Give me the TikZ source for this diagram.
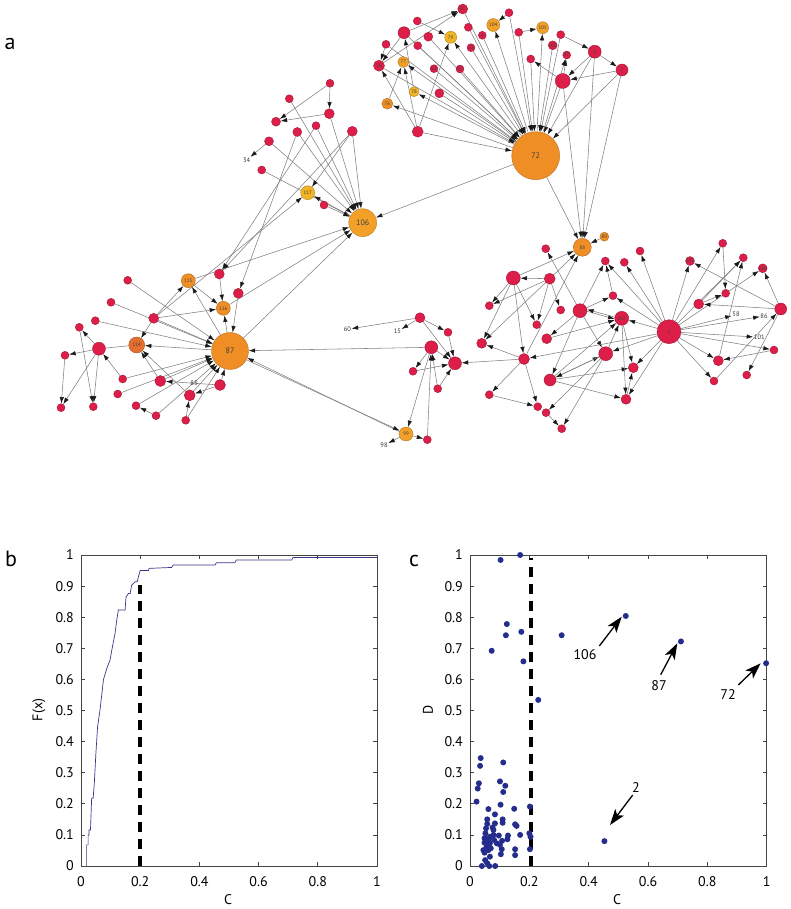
\documentclass[tikz,border=0pt]{standalone}
\usepackage{fontspec}
\setmainfont{PT Sans}
\usetikzlibrary{arrows.meta}
\pgfdeclarelayer{bg}
\pgfsetlayers{bg,main}
\definecolor{nred}{RGB}{220,30,72}
\definecolor{norange}{RGB}{240,142,38}
\definecolor{norangeb}{RGB}{242,160,40}
\definecolor{nyellow}{RGB}{242,180,36}
\definecolor{ndark}{RGB}{228,110,48}
\definecolor{dotblue}{RGB}{36,44,140}
\definecolor{cdfblue}{RGB}{55,55,135}
\definecolor{edgegray}{RGB}{128,128,128}
\definecolor{axisgray}{RGB}{70,70,70}
\newcommand\NodeC[6]{\node[nd,minimum size=#4pt,fill=#5,draw=#5!70!black] (#1) at (#2,#3) {#6};}
\newcommand\NodeB[6]{\node[nd,font=\fontsize{8}{8}\selectfont,minimum size=#4pt,fill=#5,draw=#5!75!black] (#1) at (#2,#3) {#6};}
\newcommand\NodeT[4]{\node[tx] (#1) at (#2,#3) {#4};}
\newcommand\Edge[2]{\draw[edge] (#1) -- (#2);}
\begin{document}
\begin{tikzpicture}[x=1pt,y=-1pt,
  nd/.style={circle,inner sep=0pt,line width=0.35pt,font=\fontsize{5}{5}\selectfont,text=black!75},
  tx/.style={inner sep=0.6pt,font=\fontsize{6.5}{6.5}\selectfont,text=black!80},
  edge/.style={draw=edgegray,line width=0.55pt,-{Latex[length=6.5pt,width=4.4pt,color=black!90]}},
  axis/.style={draw=axisgray,line width=0.8pt},
  tick/.style={inner sep=0pt,font=\fontsize{14}{14}\selectfont,text=black},
  panel/.style={inner sep=0pt,font=\fontsize{22}{22}\selectfont,text=black},
  ann/.style={line width=1.3pt,-{Stealth[length=16pt,width=11pt,inset=4pt]}},
  dashv/.style={line width=3.5pt,dash pattern=on 10pt off 7pt},
  dot/.style={fill=dotblue,draw=none}]
\useasboundingbox (0,0) rectangle (791,909);

% ---------------- panel a ----------------
\node[panel] (la) at (10,44) {a};

% top cluster
\NodeC{t1}{462.7}{9}{10}{nred}{61}
\NodeC{t2}{417.3}{21}{8}{nred}{}
\NodeC{t3}{404}{32.7}{12}{nred}{}
\NodeC{t4}{386}{44.3}{8}{nred}{}
\NodeC{t5}{417.7}{45.7}{8}{nred}{}
\NodeC{t6}{428.3}{36.7}{9}{nred}{}
\NodeC{t7}{450.7}{37.3}{12}{nyellow}{79}
\NodeC{t8}{468.3}{27.3}{8}{nred}{}
\NodeC{t9}{482.3}{35.3}{8}{nred}{4}
\NodeC{t10}{471}{47.7}{8}{nred}{52}
\NodeC{t11}{460}{69}{8}{nred}{51}
\NodeC{t12}{434}{68.7}{8}{nred}{62}
\NodeC{t13}{439.3}{93.3}{9}{nred}{}
\NodeC{t14}{379}{65.7}{11}{nred}{56}
\NodeC{t15}{403.3}{62}{11}{norangeb}{77}
\NodeC{t16}{414}{91.7}{10}{nyellow}{78}
\NodeC{t17}{387.3}{103.7}{11}{norange}{76}
\NodeC{t18}{417.7}{131.7}{11}{nred}{}
\NodeC{t19}{493.3}{25}{13}{norangeb}{104}
\NodeC{t20}{509}{12.7}{8}{nred}{}
\NodeC{t21}{518.7}{32.3}{8}{nred}{}
\NodeC{t22}{542.7}{27.7}{12}{norangeb}{105}
\NodeC{t23}{560.7}{34.7}{8}{nred}{}
\NodeC{t24}{552.7}{45.3}{8}{nred}{100}
\NodeC{t25}{566.7}{55}{8}{nred}{97}
\NodeC{t26}{530.7}{59}{8}{nred}{}
\NodeC{t27}{594.7}{51.7}{13}{nred}{6}
\NodeC{t28}{622}{70}{12}{nred}{7}
\NodeC{t29}{562.7}{81}{15}{nred}{}
\NodeB{H72}{535.7}{155.7}{48}{norange}{72}

% upper-left cluster
\NodeC{u1}{330}{83.3}{8}{nred}{}
\NodeC{u2}{289.3}{98.7}{8}{nred}{}
\NodeC{u3}{329.3}{113.7}{10}{nred}{}
\NodeC{u4}{276}{121.7}{9}{nred}{}
\NodeC{u5}{316}{125.7}{8}{nred}{}
\NodeC{u6}{297.3}{132}{9}{nred}{}
\NodeC{u7}{352.3}{131.3}{10}{nred}{}
\NodeC{u8}{269}{141.3}{9}{nred}{}
\NodeT{u34}{246.7}{160}{34}
\NodeC{u9}{261.7}{170}{8}{nred}{}
\NodeC{u117}{307.7}{192.7}{14}{nyellow}{117}
\NodeC{u10}{324}{205}{8}{nred}{}
\NodeB{H106}{362.7}{222.7}{28}{norangeb}{106}

% left cluster
\NodeC{L1}{127.7}{280.3}{8}{nred}{}
\NodeC{L115}{188.3}{280.7}{14}{norange}{115}
\NodeC{L37}{219.3}{274}{10}{nred}{}
\NodeC{L2}{111}{302.3}{8}{nred}{}
\NodeC{L42}{238.3}{293.3}{10}{nred}{}
\NodeC{L116}{223.3}{308.3}{14}{norange}{116}
\NodeC{L3}{95.3}{320.7}{8}{nred}{}
\NodeC{L4}{153.7}{318.3}{10}{nred}{}
\NodeC{L5}{79.3}{327.3}{8}{nred}{}
\NodeC{L114}{136.7}{345}{16}{ndark}{114}
\NodeC{L6}{99}{348.7}{13}{nred}{}
\NodeC{L7}{65}{355.3}{8}{nred}{}
\NodeB{H87}{230}{351}{37}{norange}{87}
\NodeC{L8}{122.7}{379}{8}{nred}{}
\NodeC{L9}{117.7}{394}{8}{nred}{}
\NodeC{L10}{160.3}{381}{11}{nred}{}
\NodeT{L83}{194}{383.3}{83}
\NodeC{L11}{220}{385}{11}{nred}{}
\NodeC{L12}{189.7}{395.3}{11}{nred}{}
\NodeC{L13}{61}{407.7}{8}{nred}{}
\NodeC{L14}{93.3}{406.7}{8}{nred}{}
\NodeC{L15}{136}{405.7}{8}{nred}{}
\NodeC{L16}{156}{415.7}{8}{nred}{}
\NodeC{L17}{185.7}{420.3}{8}{nred}{}

% middle cluster
\NodeC{M1}{420}{317.7}{10}{nred}{}
\NodeT{M60}{347.3}{329.3}{60}
\NodeT{M15}{397.3}{331.7}{15}
\NodeC{M2}{448}{332.3}{8}{nred}{}
\NodeC{M3}{431.3}{347.3}{13}{nred}{}
\NodeC{M4}{455}{363.3}{13}{nred}{}
\NodeC{M5}{413}{371.3}{8}{nred}{}
\NodeC{M6}{437.7}{388.7}{8}{nred}{}
\NodeC{M99}{406}{434}{14}{norangeb}{99}
\NodeC{M7}{427.3}{439.7}{8}{nred}{}
\NodeT{M98}{384}{445.3}{98}

% right cluster
\NodeC{R88}{582.3}{247.3}{18}{norange}{88}
\NodeC{R89}{604.3}{236.7}{9}{norange}{89}
\NodeC{R1}{545.7}{248.7}{8}{nred}{}
\NodeC{R22}{513.3}{278}{14}{nred}{}
\NodeC{R2}{549.7}{278.7}{11}{nred}{}
\NodeC{R3}{489.3}{305.7}{8}{nred}{}
\NodeC{R4}{560.7}{310}{8}{nred}{}
\NodeC{R5}{536.7}{324.7}{8}{nred}{}
\NodeC{R6}{481.7}{343.3}{10}{nred}{}
\NodeC{R12}{580}{310.7}{14}{nred}{}
\NodeC{R7}{605.3}{261}{8}{nred}{}
\NodeC{R8}{624.3}{262.3}{8}{nred}{}
\NodeC{R9}{640}{251}{8}{nred}{}
\NodeC{R10}{613}{295.7}{8}{nred}{}
\NodeC{R107}{621.7}{318.3}{14}{nred}{107}
\NodeC{R11}{546.7}{338.7}{10}{nred}{}
\NodeC{R35}{524}{359}{11}{nred}{}
\NodeC{R71}{605.7}{353.7}{14}{nred}{}
\NodeC{R40}{550}{380}{12}{nred}{}
\NodeC{R13}{633.3}{367.7}{10}{nred}{}
\NodeC{R17}{626}{399.3}{10}{nred}{}
\NodeC{R14}{489.3}{394.7}{8}{nred}{}
\NodeC{R15}{537.7}{406.7}{8}{nred}{}
\NodeC{R16}{546}{412.7}{8}{nred}{}
\NodeC{R18}{561.7}{428.7}{8}{nred}{}
\NodeC{R2h}{669}{331.7}{24}{nred}{2}
\NodeC{R103}{690}{261}{8}{nred}{103}
\NodeC{R19}{722.7}{243.3}{8}{nred}{}
\NodeC{R20}{743.3}{257.7}{8}{nred}{}
\NodeC{R110}{762.7}{268.3}{8}{nred}{110}
\NodeC{R21}{725.7}{293.3}{8}{nred}{}
\NodeC{R23}{698.7}{304}{10}{nred}{}
\NodeC{R24}{780.7}{309}{12}{nred}{}
\NodeT{R58}{736}{314.7}{58}
\NodeT{R86}{764}{316}{86}
\NodeT{R101}{759.3}{337.3}{101}
\NodeC{R25}{774}{350}{8}{nred}{}
\NodeC{R26}{718.3}{360.7}{10}{nred}{}
\NodeC{R27}{746.7}{375}{8}{nred}{}
\NodeC{R28}{714}{381}{8}{nred}{}

\begin{pgfonlayer}{bg}
% top cluster edges
\Edge{t3}{t1}\Edge{t14}{t1}\Edge{t2}{t7}\Edge{t3}{t14}\Edge{t18}{t14}\Edge{t18}{t15}
\Edge{t17}{t15}\Edge{t16}{t3}\Edge{t4}{t14}\Edge{t18}{t7}
\Edge{t1}{H72}\Edge{t3}{H72}\Edge{t4}{H72}\Edge{t5}{H72}\Edge{t6}{H72}\Edge{t8}{H72}
\Edge{t9}{H72}\Edge{t10}{H72}\Edge{t11}{H72}\Edge{t12}{H72}\Edge{t13}{H72}\Edge{t14}{H72}
\Edge{t18}{H72}\Edge{t20}{H72}\Edge{t21}{H72}\Edge{t23}{H72}\Edge{t24}{H72}\Edge{t26}{H72}
\Edge{t27}{H72}\Edge{t28}{H72}\Edge{t29}{H72}
\Edge{H72}{t7}\Edge{H72}{t15}\Edge{H72}{t16}\Edge{H72}{t17}\Edge{H72}{t19}\Edge{H72}{t22}\Edge{H72}{t25}
\Edge{t20}{t19}\Edge{t21}{t22}\Edge{t23}{t27}\Edge{t27}{t28}\Edge{t27}{t29}\Edge{t28}{t29}
\Edge{t29}{t26}\Edge{t29}{t25}
\Edge{H72}{H106}\Edge{H72}{R88}\Edge{t27}{R88}\Edge{t28}{R88}\Edge{t29}{R88}
% upper-left cluster edges
\Edge{u1}{u3}\Edge{u1}{u4}\Edge{u3}{u4}\Edge{u2}{H106}\Edge{u3}{H106}\Edge{u5}{H106}
\Edge{u6}{H106}\Edge{u7}{H106}\Edge{u8}{u34}\Edge{u8}{H106}\Edge{u9}{H106}\Edge{u7}{u117}
\Edge{H106}{u117}\Edge{u10}{H106}\Edge{u7}{L37}\Edge{u6}{L42}\Edge{u5}{L37}
\Edge{H87}{H106}\Edge{L115}{H106}\Edge{L116}{H106}\Edge{L4}{u117}
% left cluster edges
\Edge{L1}{H87}\Edge{L2}{H87}\Edge{L3}{H87}\Edge{L4}{H87}\Edge{L4}{L115}\Edge{L4}{L114}
\Edge{L4}{L116}\Edge{H87}{L114}\Edge{H87}{L115}\Edge{H87}{L116}\Edge{L115}{L116}
\Edge{L37}{L116}\Edge{L42}{H87}
\Edge{L6}{L5}\Edge{L6}{L7}\Edge{L6}{L13}\Edge{L6}{L14}\Edge{L8}{L6}\Edge{L5}{L14}\Edge{L7}{L13}
\draw[draw=edgegray,line width=0.55pt] (L6) -- (L114);
\Edge{L8}{H87}\Edge{L9}{H87}\Edge{L10}{H87}\Edge{L11}{H87}\Edge{L12}{H87}\Edge{L15}{H87}
\Edge{L16}{L15}\Edge{L16}{H87}\Edge{L17}{H87}\Edge{L10}{L114}\Edge{L12}{L114}\Edge{L11}{L10}
\Edge{L11}{L12}\Edge{L17}{L12}
% middle cluster edges
\Edge{M1}{M60}\Edge{M1}{M15}\Edge{M1}{M2}\Edge{M1}{M4}\Edge{M2}{M4}\Edge{M3}{M4}
\Edge{M3}{M5}\Edge{M5}{M4}\Edge{M6}{M4}\Edge{M6}{M3}\Edge{M3}{M99}\Edge{M7}{M3}
\Edge{M99}{M7}\Edge{M99}{M98}\Edge{M3}{H87}\Edge{R35}{M4}
\draw[edge] (M99.160) -- (H87.-22);
\draw[edge] (H87.-28) -- (M99.152);
% right cluster edges
\Edge{R89}{R88}\Edge{R22}{R88}\Edge{R2}{R88}\Edge{R35}{R88}\Edge{R12}{R1}\Edge{R2}{R22}
\Edge{R22}{R3}\Edge{R22}{R5}\Edge{R22}{R6}\Edge{R22}{R35}\Edge{R2}{R3}\Edge{R2}{R5}
\Edge{R2}{R4}\Edge{R2}{R6}\Edge{R35}{R6}\Edge{R35}{R14}\Edge{R35}{R15}\Edge{R14}{R15}
\Edge{R16}{R18}\Edge{R71}{R16}\Edge{R71}{R18}
\draw[edge] (R12.-5) -- (R107.185);
\draw[edge] (R107.170) -- (R12.10);
\Edge{R12}{R7}\Edge{R12}{R10}\Edge{R12}{R11}\Edge{R12}{R71}\Edge{R12}{R40}\Edge{R10}{R7}
\Edge{R2h}{R8}\Edge{R2h}{R9}\Edge{R2h}{R7}\Edge{R2h}{R10}\Edge{R2h}{R107}\Edge{R2h}{R13}
\Edge{R2h}{R17}\Edge{R40}{R107}\Edge{R40}{R71}\Edge{R71}{R40}\Edge{R40}{R13}\Edge{R40}{R17}
\Edge{R107}{R13}\Edge{R107}{R17}\Edge{R17}{R13}\Edge{R71}{R107}\Edge{R11}{R107}\Edge{R2h}{R71}
\Edge{R2h}{R35}
\Edge{R2h}{R103}\Edge{R2h}{R19}\Edge{R2h}{R20}\Edge{R2h}{R110}\Edge{R2h}{R58}\Edge{R2h}{R86}
\Edge{R2h}{R101}\Edge{R2h}{R25}\Edge{R2h}{R26}\Edge{R2h}{R28}
\Edge{R24}{R103}\Edge{R24}{R23}\Edge{R24}{R110}\Edge{R24}{R27}\Edge{R23}{R21}\Edge{R23}{R20}
\Edge{R19}{R21}\Edge{R25}{R26}\Edge{R26}{R20}\Edge{R28}{R24}
\end{pgfonlayer}

% ---------------- panel b ----------------
\node[panel] (lb) at (11,559) {b};
\begin{scope}[shift={(81,866)},x=296pt,y=311pt]
  \draw[axis] (0,0) rectangle (1,1);
  \foreach \v in {0.2,0.4,0.6,0.8}{\draw[axis] (\v,0) -- ++(0pt,4pt); \draw[axis] (\v,1) -- ++(0pt,-4pt);}
  \foreach \v in {0.1,0.2,...,0.9}{\draw[axis] (0,\v) -- ++(4pt,0pt); \draw[axis] (1,\v) -- ++(-4pt,0pt);}
  \foreach \v/\l in {0/0,0.2/0.2,0.4/0.4,0.6/0.6,0.8/0.8,1/1}{\node[tick,anchor=north] at ([yshift=-10pt]\v,0) {\l};}
  \foreach \v/\l in {0/0,0.1/0.1,0.2/0.2,0.3/0.3,0.4/0.4,0.5/0.5,0.6/0.6,0.7/0.7,0.8/0.8,0.9/0.9,1/1}{\node[tick,anchor=east] at ([xshift=-7pt]0,\v) {\l};}
  \draw[cdfblue,line width=0.7pt] (0.019,0) -- (0.019,0.068) -- (0.024,0.068) -- (0.024,0.10) -- (0.027,0.10) -- (0.027,0.116) -- (0.032,0.116) -- (0.036,0.218) -- (0.041,0.218) -- (0.045,0.266) -- (0.05,0.357) -- (0.056,0.448) -- (0.064,0.5) -- (0.076,0.6) -- (0.087,0.635) -- (0.098,0.662) -- (0.104,0.694) -- (0.115,0.748) -- (0.12,0.785) -- (0.126,0.823) -- (0.149,0.823) -- (0.152,0.865) -- (0.16,0.876) -- (0.166,0.876) -- (0.171,0.903) -- (0.183,0.914) -- (0.19,0.914) -- (0.194,0.93) -- (0.2,0.95) -- (0.228,0.95) -- (0.23,0.957) -- (0.306,0.96) -- (0.312,0.968) -- (0.453,0.968) -- (0.457,0.975) -- (0.52,0.975) -- (0.524,0.984) -- (0.712,0.984) -- (0.716,0.992) -- (1,0.992);
  \draw[dashv] (0.2,0) -- (0.2,0.905);
\end{scope}
\node[tick] (bx) at (228,900) {C};
\node[tick,rotate=90] (by) at (39,710) {F(x)};

% ---------------- panel c ----------------
\node[panel] (lc) at (414,561) {c};
\begin{scope}[shift={(470,866)},x=296.7pt,y=311pt]
  \draw[axis] (0,0) rectangle (1,1);
  \foreach \v in {0.2,0.4,0.6,0.8}{\draw[axis] (\v,0) -- ++(0pt,4pt); \draw[axis] (\v,1) -- ++(0pt,-4pt);}
  \foreach \v in {0.1,0.2,...,0.9}{\draw[axis] (0,\v) -- ++(4pt,0pt); \draw[axis] (1,\v) -- ++(-4pt,0pt);}
  \foreach \v/\l in {0/0,0.2/0.2,0.4/0.4,0.6/0.6,0.8/0.8,1/1}{\node[tick,anchor=north] at ([yshift=-10pt]\v,0) {\l};}
  \foreach \v/\l in {0/0,0.1/0.1,0.2/0.2,0.3/0.3,0.4/0.4,0.5/0.5,0.6/0.6,0.7/0.7,0.8/0.8,0.9/0.9,1/1}{\node[tick,anchor=east] at ([xshift=-7pt]0,\v) {\l};}
  \draw[dashv] (0.206,0) -- (0.206,0.99);
  \foreach \px/\py in {0.103/0.984,0.169/1.0,0.124/0.778,0.121/0.742,0.173/0.753,0.073/0.692,0.180/0.658,0.309/0.742,0.230/0.534,0.525/0.804,0.711/0.722,0.998/0.652,0.453/0.080,
    0.036/0.347,0.034/0.322,0.030/0.266,0.026/0.249,0.022/0.207,0.112/0.333,0.101/0.272,0.119/0.258,0.112/0.238,0.103/0.197,0.062/0.183,0.084/0.166,0.149/0.184,0.202/0.191,
    0.058/0.150,0.110/0.150,0.058/0.135,0.110/0.139,0.152/0.134,0.157/0.129,0.054/0.121,0.076/0.124,0.079/0.116,0.052/0.105,0.067/0.094,0.097/0.098,0.128/0.098,0.169/0.100,
    0.200/0.105,0.204/0.094,0.049/0.089,0.062/0.086,0.081/0.084,0.108/0.081,0.126/0.086,0.049/0.075,0.067/0.073,0.090/0.073,0.056/0.062,0.070/0.057,0.101/0.068,0.045/0.051,
    0.049/0.043,0.058/0.068,0.202/0.054,0.152/0.054,0.152/0.035,0.104/0.038,0.067/0.030,0.051/0.019,0.058/0.009,0.040/0.0,0.065/0.0,0.085/0.0,0.107/0.054,0.079/0.1,0.062/0.051,0.084/0.137}
    {\fill[dot] (\px,\py) circle[radius=3pt];}
\end{scope}
\node[tick] (cx) at (617,900) {C};
\node[tick,rotate=90] (cy) at (428,710) {D};
% annotations
\node[tick] (a106) at (585,655) {106};
\node[tick] (a87) at (659,686) {87};
\node[tick] (a72) at (728,695) {72};
\node[tick] (a2) at (636,787.7) {2};
\coordinate (p106) at (621.7,616.7);
\coordinate (p87) at (677.3,643.3);
\coordinate (p72) at (760.7,663.3);
\coordinate (p2) at (610,825);
\draw[ann] (599.3,646) -- (p106);
\draw[ann] (660.7,674.7) -- (p87);
\draw[ann] (738.3,685) -- (p72);
\draw[ann] (632.7,795) -- (p2);
\end{tikzpicture}
\end{document}
